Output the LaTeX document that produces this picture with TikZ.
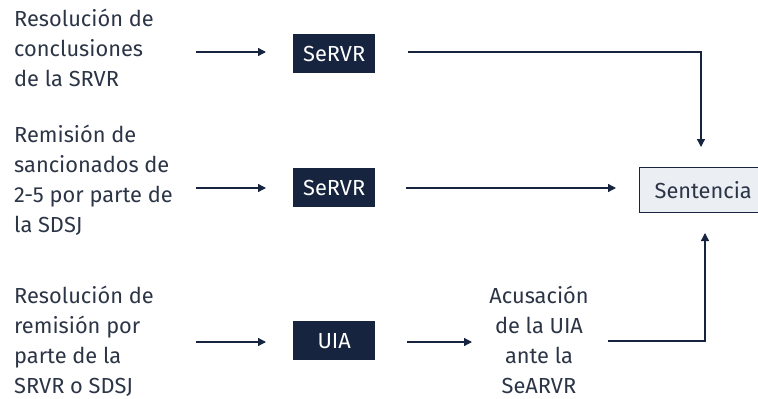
\documentclass[tikz,border=0pt]{standalone}
\usepackage{fontspec}
\setmainfont{Fira Sans}
\usetikzlibrary{arrows.meta}
\definecolor{navy}{HTML}{16243F}
\definecolor{ink}{HTML}{2C3546}
\definecolor{pale}{HTML}{EBEFF3}
\begin{document}
\begin{tikzpicture}[x=1pt,y=-1pt,
  every node/.style={font=\fontsize{21.8}{30}\selectfont, text=ink, inner sep=0pt},
  src/.style={align=left, anchor=base west},
  darkbox/.style={fill=navy, text=white, minimum width=82pt, minimum height=39pt, anchor=north west},
  flow/.style={draw=navy, line width=1.3pt, -{Triangle[length=8pt,width=8pt]}}]
\clip (0,0) rectangle (758,399);
\useasboundingbox (0,0) rectangle (758,399);

% left-hand sources (anchored at the baseline of their last line)
\node[src] (s1) at (14,86) {Resolución de\\conclusiones\\de la SRVR};
\node[src] (s2) at (14,232) {Remisión de\\sancionados de\\2-5 por parte de\\la SDSJ};
\node[src] (s3) at (14,393) {Resolución de\\remisión por\\parte de la\\SRVR o SDSJ};

% dark boxes
\node[darkbox] (b1) at (293,34) {SeRVR};
\node[darkbox] (b2) at (293,168) {SeRVR};
\node[darkbox] (b3) at (293,321) {UIA};

% accusation text
\node[align=center, anchor=base] (acc) at (539,393) {Acusación\\de la UIA\\ante la\\SeARVR};

% sentence box (runs past the right edge)
\node[draw=navy, fill=pale, line width=1.3pt, minimum width=150pt, minimum height=45pt, anchor=north west, text width=134pt, align=left, inner xsep=8pt] (sent) at (639,167) {\hspace*{7pt}Sentencia};

% arrow stubs into the dark boxes
\coordinate (a1s) at (196,52);  \coordinate (a1e) at (266,52);
\coordinate (a2s) at (196,188); \coordinate (a2e) at (266,188);
\coordinate (a3s) at (196,342); \coordinate (a3e) at (266,342);
\draw[flow] (a1s) -- (a1e);
\draw[flow] (a2s) -- (a2e);
\draw[flow] (a3s) -- (a3e);

% connectors towards the sentence
\coordinate (c1) at (408,52);
\coordinate (c1e) at (701,147);
\draw[flow] (c1) -| (c1e);
\coordinate (c2) at (406,188);
\coordinate (c2e) at (616,188);
\draw[flow] (c2) -- (c2e);
\coordinate (c3) at (407,342);
\coordinate (c3e) at (472,342);
\draw[flow] (c3) -- (c3e);
\coordinate (c4) at (608,341);
\coordinate (c4e) at (705,233);
\draw[flow] (c4) -| (c4e);
\end{tikzpicture}
\end{document}
